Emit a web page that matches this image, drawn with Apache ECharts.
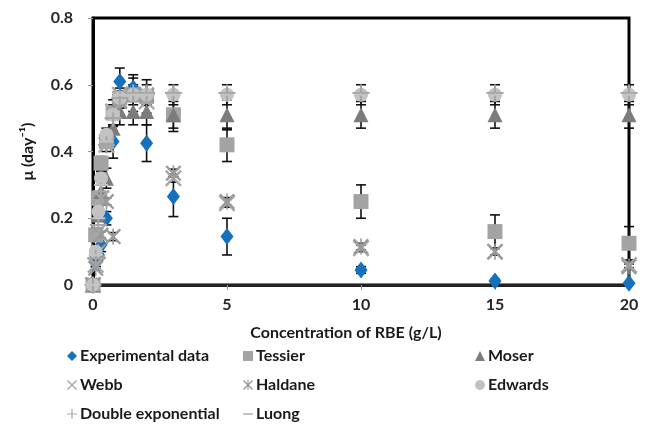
<!DOCTYPE html>
<html>
<head>
<meta charset="utf-8">
<script src="https://cdn.jsdelivr.net/npm/echarts@6/dist/echarts.min.js"></script>
<style>html,body{margin:0;padding:0;background:#fff;}#c{width:647px;height:426px;}</style>
</head>
<body>
<div id="c"></div>
<script>
const xValues = [0, 0.1, 0.2, 0.3, 0.5, 0.75, 1, 1.5, 2, 3, 5, 10, 15, 20];
const experimental    = [0, 0.075, 0.09, 0.12, 0.2, 0.43, 0.61, 0.59, 0.425, 0.265, 0.145, 0.045, 0.012, 0.005];
const experimentalErr = [0.005, 0.01, 0.015, 0.02, 0.02, 0.05, 0.04, 0.04, 0.055, 0.06, 0.055, 0.01, 0.005, 0.003];
const tessier    = [0, 0.15, 0.26, 0.365, 0.43, 0.515, 0.56, 0.57, 0.565, 0.51, 0.42, 0.25, 0.16, 0.125];
const tessierErr = [0.005, 0.01, 0.02, 0.02, 0.03, 0.04, 0.05, 0.05, 0.05, 0.05, 0.05, 0.05, 0.05, 0.05];
const moser    = [0, 0.1, 0.21, 0.28, 0.32, 0.47, 0.52, 0.52, 0.52, 0.51, 0.51, 0.51, 0.51, 0.51];
const moserErr = [0.005, 0.01, 0.015, 0.02, 0.03, 0.04, 0.04, 0.04, 0.04, 0.04, 0.045, 0.04, 0.04, 0.04];
const webb    = [0, 0.06, 0.16, 0.26, 0.42, 0.52, 0.57, 0.57, 0.55, 0.32, 0.245, 0.11, 0.1, 0.06];
const webbErr = [0.003, 0.005, 0.01, 0.01, 0.01, 0.012, 0.012, 0.012, 0.012, 0.012, 0.012, 0.01, 0.01, 0.008];
const haldane    = [0, 0.05, 0.1, 0.15, 0.25, 0.145, 0.55, 0.57, 0.57, 0.335, 0.25, 0.115, 0.1, 0.055];
const haldaneErr = [0.003, 0.005, 0.01, 0.01, 0.01, 0.012, 0.012, 0.012, 0.012, 0.012, 0.012, 0.01, 0.01, 0.008];
const edwards    = [0, 0.1, 0.22, 0.32, 0.45, 0.51, 0.56, 0.57, 0.57, 0.57, 0.57, 0.57, 0.57, 0.57];
const edwardsErr = [0.005, 0.01, 0.015, 0.02, 0.02, 0.03, 0.03, 0.03, 0.03, 0.03, 0.03, 0.03, 0.03, 0.03];
const doubleExp = [0, 0.08, 0.18, 0.28, 0.42, 0.5, 0.56, 0.575, 0.575, 0.575, 0.575, 0.575, 0.575, 0.575];
const luong     = [0, 0.09, 0.2, 0.3, 0.43, 0.52, 0.57, 0.57, 0.57, 0.57, 0.57, 0.57, 0.57, 0.57];
const yTicks = [0, 0.2, 0.4, 0.6, 0.8];
const xTicks = [0, 5, 10, 15, 20];

const X_PATH = 'path://M0,1L1,0L10,9L9,10Z M9,0L10,1L1,10L0,9Z';
const STAR_PATH = 'path://M0,1L1,0L10,9L9,10Z M9,0L10,1L1,10L0,9Z M4.5,0L5.5,0L5.5,10L4.5,10Z';
const PLUS_PATH = 'path://M4.4,0L5.6,0L5.6,10L4.4,10Z M0,4.4L10,4.4L10,5.6L0,5.6Z';
const DASH_PATH = 'path://M0,0L10,0L10,2L0,2Z';

const FONT = 'Lato, "Open Sans", sans-serif';

const seriesDefs = [
  {name: 'Experimental data', data: experimental, err: experimentalErr, symbol: 'diamond', size: [13, 17], color: '#1570BE'},
  {name: 'Tessier', data: tessier, err: tessierErr, symbol: 'rect', size: 15, color: '#A3A3A3'},
  {name: 'Moser', data: moser, err: moserErr, symbol: 'triangle', size: 15, color: '#7C7C7C'},
  {name: 'Webb', data: webb, err: webbErr, symbol: X_PATH, size: 17, color: '#A8A8A8'},
  {name: 'Haldane', data: haldane, err: haldaneErr, symbol: STAR_PATH, size: 16, color: '#9A9A9A'},
  {name: 'Edwards', data: edwards, err: edwardsErr, symbol: 'circle', size: 14, color: '#C2C2C2'},
  {name: 'Double exponential', data: doubleExp, err: null, symbol: PLUS_PATH, size: 17, color: '#A6A6A6'},
  {name: 'Luong', data: luong, err: null, symbol: DASH_PATH, size: [14, 2], color: '#C4C4C4'}
];

function errRender(params, api) {
  const x = api.value(0), y = api.value(1), e = api.value(2);
  const top = api.coord([x, y + e]);
  const bot = api.coord([x, y - e]);
  const hw = 5;
  const style = {stroke: '#111', lineWidth: 1.6};
  return {
    type: 'group',
    children: [
      {type: 'line', shape: {x1: top[0], y1: top[1], x2: bot[0], y2: bot[1]}, style: style},
      {type: 'line', shape: {x1: top[0] - hw, y1: top[1], x2: top[0] + hw, y2: top[1]}, style: style},
      {type: 'line', shape: {x1: bot[0] - hw, y1: bot[1], x2: bot[0] + hw, y2: bot[1]}, style: style}
    ]
  };
}

const series = [];
seriesDefs.forEach(function (d) {
  if (d.err) {
    series.push({
      type: 'custom',
      name: d.name + ' err',
      renderItem: errRender,
      clip: false,
      silent: true,
      data: xValues.map(function (x, i) { return [x, d.data[i], d.err[i]]; })
    });
  }
  series.push({
    type: 'scatter',
    name: d.name,
    symbol: d.symbol,
    symbolSize: d.size,
    clip: false,
    itemStyle: {color: d.color, opacity: 1},
    data: xValues.map(function (x, i) { return [x, d.data[i]]; })
  });
});

function legendIcon(name) {
  const d = seriesDefs.find(function (s) { return s.name === name; });
  return {name: name, icon: d.symbol};
}

const legendCommon = {
  orient: 'vertical',
  itemWidth: 10,
  itemHeight: 10,
  itemGap: 13,
  height: 120,
  padding: 0,
  selectedMode: false,
  textStyle: {fontFamily: FONT, fontWeight: 'bold', fontSize: 16, color: '#1a1a1a', padding: [0, 0, 0, -2]}
};

const chart = echarts.init(document.getElementById('c'), null, {renderer: 'canvas'});
chart.setOption({
  animation: false,
  backgroundColor: '#fff',
  grid: {left: 93, right: 18, top: 18, bottom: 141, show: true, borderColor: '#000', borderWidth: 3},
  xAxis: {
    type: 'value', min: xTicks[0], max: xTicks[xTicks.length - 1], interval: 5,
    name: 'Concentration of RBE (g/L)', nameLocation: 'middle', nameGap: 40,
    nameTextStyle: {fontFamily: FONT, fontWeight: 'bold', fontSize: 16, color: '#1a1a1a', padding: [0, 30, 0, 0]},
    axisLine: {show: true, lineStyle: {color: '#222', width: 3}},
    axisTick: {show: true, length: 5, lineStyle: {color: '#999'}},
    splitLine: {show: false},
    axisLabel: {fontFamily: FONT, fontWeight: 'bold', fontSize: 16, color: '#262626', margin: 12}
  },
  yAxis: {
    type: 'value', min: yTicks[0], max: yTicks[yTicks.length - 1], interval: 0.2,
    name: 'μ (day⁻¹)', nameLocation: 'middle', nameGap: 57, nameRotate: 90,
    nameTextStyle: {fontFamily: FONT, fontWeight: 'bold', fontSize: 16, color: '#1a1a1a'},
    axisLine: {show: true, lineStyle: {color: '#000', width: 3}},
    axisTick: {show: true, length: 5, lineStyle: {color: '#999'}},
    splitLine: {show: false},
    axisLabel: {fontFamily: FONT, fontWeight: 'bold', fontSize: 16, color: '#262626', margin: 20,
      formatter: function (v) { return v === 0 ? '0' : v.toFixed(1); }}
  },
  legend: [
    Object.assign({left: 67, top: 348, data: ['Experimental data', 'Webb', 'Double exponential'].map(legendIcon)}, legendCommon),
    Object.assign({left: 243, top: 348, data: ['Tessier', 'Haldane', 'Luong'].map(legendIcon)}, legendCommon),
    Object.assign({left: 475, top: 348, data: ['Moser', 'Edwards'].map(legendIcon)}, legendCommon)
  ],
  series: series
});
</script>
</body>
</html>
